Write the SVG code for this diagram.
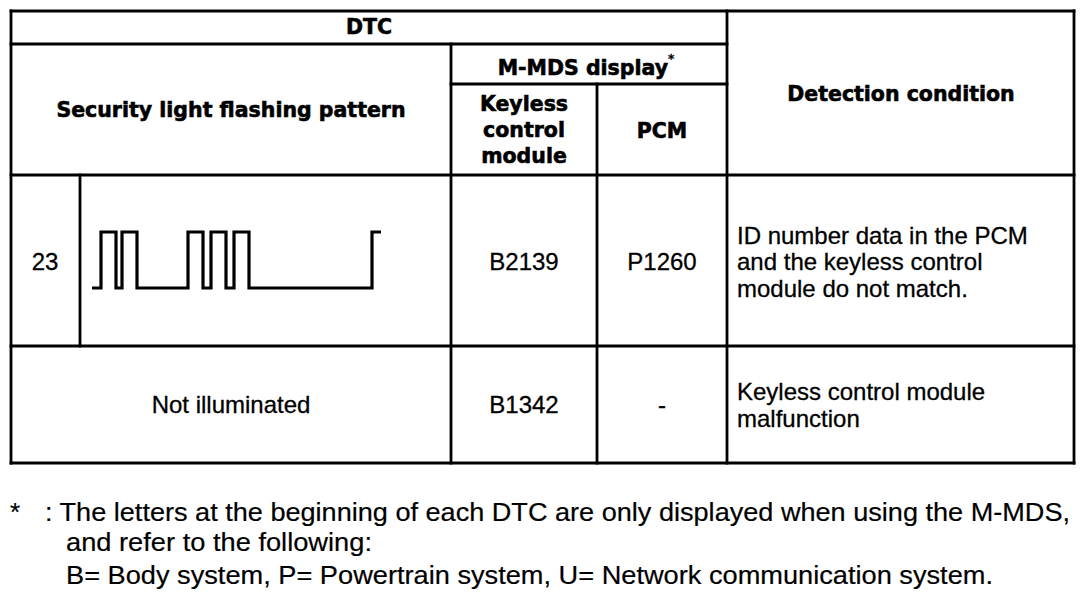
<svg xmlns="http://www.w3.org/2000/svg" width="1088" height="606" viewBox="0 0 1088 606">
<style>
.ln{stroke:#000;stroke-width:2.8;fill:none;stroke-linecap:square}
.hd{font-family:"DejaVu Sans",sans-serif;font-weight:bold;font-size:20.5px;fill:#000;stroke:#000;stroke-width:0.6;text-anchor:middle}
.tx{font-family:"Liberation Sans",Arial,sans-serif;font-size:24px;fill:#000;stroke:#000;stroke-width:0.3}
.c{text-anchor:middle}
.fn{font-family:"Liberation Sans",Arial,sans-serif;font-size:26px;fill:#000;stroke:#000;stroke-width:0.2}
.wave{stroke:#000;stroke-width:3.2;fill:none;stroke-linejoin:miter}
</style>
<rect width="1088" height="606" fill="#fff"/>
<g id="grid">
<line class="ln" x1="11" y1="11" x2="1074" y2="11"/>
<line class="ln" x1="11" y1="44" x2="727" y2="44"/>
<line class="ln" x1="451" y1="84" x2="727" y2="84"/>
<line class="ln" x1="11" y1="175" x2="1074" y2="175"/>
<line class="ln" x1="11" y1="346" x2="1074" y2="346"/>
<line class="ln" x1="11" y1="463" x2="1074" y2="463"/>
<line class="ln" x1="11" y1="11" x2="11" y2="463"/>
<line class="ln" x1="80" y1="175" x2="80" y2="346"/>
<line class="ln" x1="451" y1="44" x2="451" y2="463"/>
<line class="ln" x1="597" y1="84" x2="597" y2="463"/>
<line class="ln" x1="727" y1="11" x2="727" y2="463"/>
<line class="ln" x1="1074" y1="11" x2="1074" y2="463"/>
</g>
<g id="header">
<text class="hd" x="369" y="34">DTC</text>
<text class="hd" x="231" y="117">Security light flashing pattern</text>
<text class="hd" x="586" y="75">M-MDS display<tspan font-size="12" stroke-width="0.3" dy="-12">*</tspan></text>
<text class="hd" x="524" y="111">Keyless</text>
<text class="hd" x="524" y="137">control</text>
<text class="hd" x="524" y="163">module</text>
<text class="hd" x="662" y="138">PCM</text>
<text class="hd" x="901" y="101">Detection condition</text>
</g>
<g id="row1">
<text class="tx c" x="45" y="270">23</text>
<polyline class="wave" points="92,288 101,288 101,232 116,232 116,288 122,288 122,232 137,232 137,288 188,288 188,232 203,232 203,288 211,288 211,232 226,232 226,288 234,288 234,232 249,232 249,288 372,288 372,232 381,232"/>
<text class="tx c" x="524" y="270">B2139</text>
<text class="tx c" x="662" y="270">P1260</text>
<text class="tx" x="737" y="244">ID number data in the PCM</text>
<text class="tx" x="737" y="270">and the keyless control</text>
<text class="tx" x="737" y="297">module do not match.</text>
</g>
<g id="row2">
<text class="tx c" x="231" y="413">Not illuminated</text>
<text class="tx c" x="524" y="413">B1342</text>
<text class="tx c" x="662" y="413">-</text>
<text class="tx" x="737" y="400">Keyless control module</text>
<text class="tx" x="737" y="427">malfunction</text>
</g>
<g id="footnote">
<text class="fn" x="10" y="521">*</text>
<text class="fn" x="45" y="521" textLength="1025" lengthAdjust="spacingAndGlyphs">: The letters at the beginning of each DTC are only displayed when using the M-MDS,</text>
<text class="fn" x="66" y="551" textLength="306" lengthAdjust="spacingAndGlyphs">and refer to the following:</text>
<text class="fn" x="66" y="584" textLength="927" lengthAdjust="spacingAndGlyphs">B= Body system, P= Powertrain system, U= Network communication system.</text>
</g>
</svg>
